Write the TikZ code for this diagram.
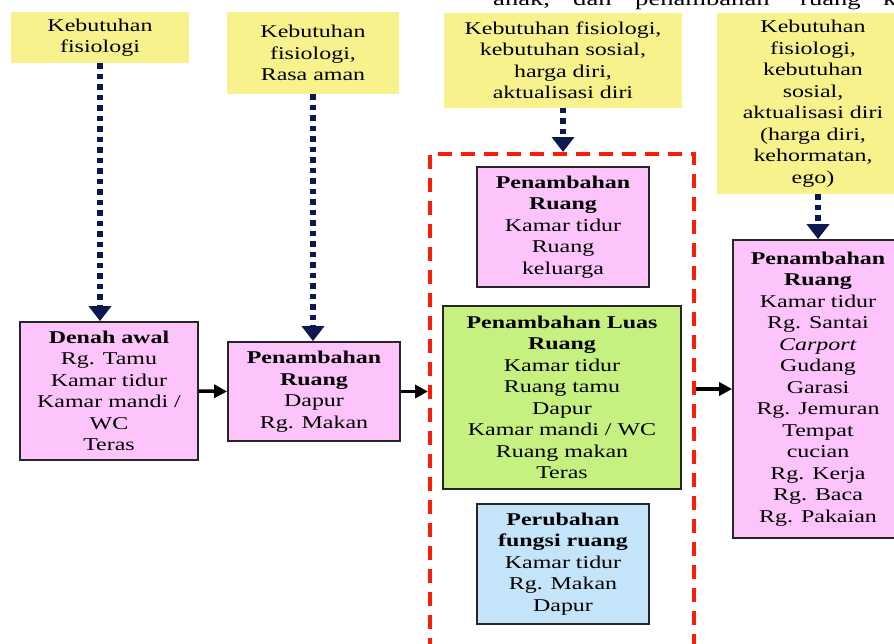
\documentclass[tikz,border=0pt]{standalone}
\usepackage{fontspec}
\setmainfont{Liberation Serif}[FakeStretch=1.33]
\usepackage{tikz}
\usetikzlibrary{arrows.meta, positioning}
\definecolor{needyellow}{RGB}{247,242,140}
\definecolor{roompink}{RGB}{252,196,250}
\definecolor{areagreen}{RGB}{198,240,128}
\definecolor{changeblue}{RGB}{196,228,250}
\definecolor{needblue}{RGB}{12,24,80}
\definecolor{groupred}{RGB}{250,30,10}
\newcommand*{\boxfont}{\fontsize{18}{21.5}\selectfont}
\tikzstyle{block} = [rectangle, align=center, inner sep=2pt, font=\boxfont]
\tikzstyle{need} = [block, fill=needyellow]
\tikzstyle{room} = [block, draw=black!85, line width=1.8pt, fill=roompink]
\tikzstyle{area} = [room, fill=areagreen]
\tikzstyle{change} = [room, fill=changeblue]
\tikzstyle{group} = [rectangle, draw=groupred, line width=4pt, dash pattern=on 14pt off 9pt]
\tikzstyle{flow} = [-{Triangle[width=13pt, length=13pt]}, line width=3.5pt]
\tikzstyle{needflow} = [-{Triangle[width=22pt, length=15pt]}, draw=needblue, line width=6.5pt, dash pattern=on 5.5pt off 5pt]

\begin{document}
\begin{tikzpicture}[x=1pt, y=-1pt]
    \useasboundingbox (0,0) rectangle (894,643);
    \clip (0,0) rectangle (894,643);

    % Text above.
    \foreach \w/\x in {{anak,}/493, dan/573, penambahan/635, ruang/800, k/883} {
        \node [anchor=base west, inner sep=0pt, font=\fontsize{20}{20}\selectfont] at (\x,5.5) {\w};
    }

    % Needs.
    \node (need1) [need, minimum width=178pt, minimum height=51pt] at (100,37.5) {Kebutuhan\\fisiologi};
    \node (need2) [need, minimum width=172pt, minimum height=82pt] at (313,53) {Kebutuhan\\fisiologi,\\Rasa aman};
    \node (need3) [need, minimum width=238pt, minimum height=95pt] at (563,60) {Kebutuhan fisiologi,\\kebutuhan sosial,\\harga diri,\\aktualisasi diri};
    \node (need4) [need, minimum width=192pt, minimum height=181pt] at (813,103.5) {Kebutuhan\\fisiologi,\\kebutuhan\\sosial,\\aktualisasi diri\\(harga diri,\\kehormatan,\\ego)};

    % Rooms.
    \node (start) [room, minimum width=178pt, minimum height=138pt] at (109,391) {\textbf{Denah awal}\\Rg. Tamu\\Kamar tidur\\Kamar mandi /\\WC\\Teras};
    \node (kitchen) [room, minimum width=172pt, minimum height=99pt] at (314,391.5) {\textbf{Penambahan}\\\textbf{Ruang}\\Dapur\\Rg. Makan};
    \node (group) [group, minimum width=264pt, minimum height=506pt] at (562,407) {};
    \node (add) [room, minimum width=172pt, minimum height=120pt] at (563,227) {\textbf{Penambahan}\\\textbf{Ruang}\\Kamar tidur\\Ruang\\keluarga};
    \node (wide) [area, minimum width=238pt, minimum height=183pt] at (562,397.5) {\textbf{Penambahan Luas}\\\textbf{Ruang}\\Kamar tidur\\Ruang tamu\\Dapur\\Kamar mandi / WC\\Ruang makan\\Teras};
    \node (swap) [change, minimum width=172pt, minimum height=120pt] at (563,564) {\textbf{Perubahan}\\\textbf{fungsi ruang}\\Kamar tidur\\Rg. Makan\\Dapur};
    \node (final) [room, minimum width=170pt, minimum height=298pt] at (818,389) {\textbf{Penambahan}\\\textbf{Ruang}\\Kamar tidur\\Rg. Santai\\\textit{Carport}\\Gudang\\Garasi\\Rg. Jemuran\\Tempat\\cucian\\Rg. Kerja\\Rg. Baca\\Rg. Pakaian};

    % Arrows.
    \draw [needflow] (need1.south) -- (need1.south |- start.north);
    \draw [needflow] (need2.south) -- (need2.south |- kitchen.north);
    \draw [needflow] (need3.south) -- (need3.south |- group.north);
    \draw [needflow] (final.north |- need4.south) -- (final.north);

    \draw [flow] (start.east) -- (kitchen.west);
    \draw [flow] (kitchen.east) -- (kitchen.east -| group.west);
    \draw [flow] (group.east |- final.west) -- (final.west);
\end{tikzpicture}
\end{document}
